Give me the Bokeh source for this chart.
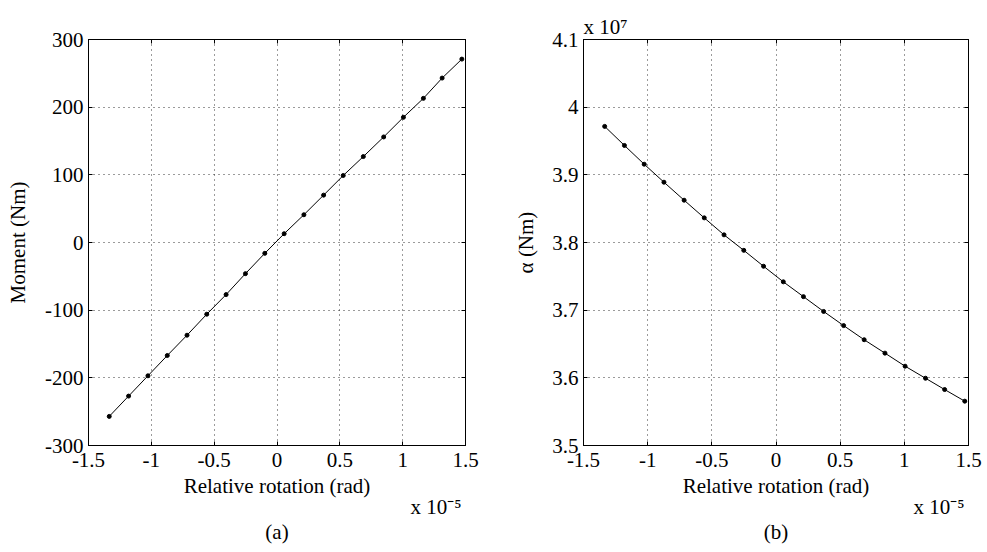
from bokeh.plotting import figure
from bokeh.layouts import row
from bokeh.models import FixedTicker, LinearAxis, CustomJSTickFormatter, Range1d, Title
from bokeh.embed import file_html
from bokeh.resources import INLINE

# Relative rotation, in units of 1e-5 rad
rotation_e5 = [-1.335, -1.181, -1.027, -0.873, -0.716, -0.559, -0.405, -0.251, -0.097,
               0.057, 0.214, 0.371, 0.527, 0.687, 0.849, 1.006, 1.165, 1.314, 1.471]
# Moment (Nm)
moment_nm = [-257, -227, -197, -167, -137, -106, -77, -46, -16,
             13, 41, 70, 99, 127, 156, 185, 213, 243, 271]
# alpha (Nm), in units of 1e7
alpha_e7 = [3.9716, 3.9434, 3.9157, 3.8891, 3.8625, 3.8364, 3.8113, 3.7884, 3.7649,
            3.7419, 3.7200, 3.6981, 3.6772, 3.6563, 3.6365, 3.6172, 3.5994, 3.5827, 3.5655]

x_ticks = [-1.5, -1, -0.5, 0, 0.5, 1, 1.5]
moment_ticks = [-300, -200, -100, 0, 100, 200, 300]
alpha_ticks = [3.5, 3.6, 3.7, 3.8, 3.9, 4.0, 4.1]

FONT = "Liberation Serif"
FS = "21px"


def make_panel(width, bl, br, y_lo, y_hi, yticks, ylabel, ylab_standoff, ys, caption):
    p = figure(width=width, height=552, x_range=Range1d(-1.5, 1.5), y_range=Range1d(y_lo, y_hi),
               output_backend="svg", toolbar_location=None,
               min_border_left=bl, min_border_right=br, min_border_top=39, min_border_bottom=107)
    p.background_fill_color = "white"
    p.border_fill_color = "white"
    p.outline_line_color = "black"
    p.outline_line_width = 1

    fmt = CustomJSTickFormatter(code="return String(Math.round(tick*1000)/1000);")
    xt = FixedTicker(ticks=x_ticks)
    yt = FixedTicker(ticks=yticks)

    for ax, t in ((p.xaxis[0], xt), (p.yaxis[0], yt)):
        ax.ticker = t
        ax.formatter = fmt
        ax.major_tick_in = 4
        ax.major_tick_out = 0
        ax.minor_tick_line_color = None
        ax.axis_line_color = "black"
        ax.major_tick_line_color = "black"
        ax.major_label_text_font = FONT
        ax.major_label_text_font_size = FS
        ax.major_label_text_color = "black"
        ax.axis_label_text_font = FONT
        ax.axis_label_text_font_size = FS
        ax.axis_label_text_font_style = "normal"
        ax.axis_label_text_color = "black"

    p.xaxis.axis_label = "Relative rotation (rad)"
    p.xaxis.major_label_standoff = 7
    p.xaxis.axis_label_standoff = 4
    p.yaxis.axis_label = ylabel
    p.yaxis.major_label_standoff = 5
    p.yaxis.axis_label_standoff = ylab_standoff

    blank = CustomJSTickFormatter(code="return '';")
    for loc, t in (("above", x_ticks), ("right", yticks)):
        ax = LinearAxis(ticker=FixedTicker(ticks=t), formatter=blank,
                        major_label_text_font_size="1px",
                        major_tick_in=4, major_tick_out=0, minor_tick_line_color=None,
                        axis_line_color="black", major_tick_line_color="black")
        p.add_layout(ax, loc)

    p.xgrid.ticker = xt
    p.ygrid.ticker = yt
    for g in (p.xgrid, p.ygrid):
        g.grid_line_color = "#222222"
        g.grid_line_dash = "1 4"
        g.grid_line_width = 1
        g.grid_line_alpha = 0.9

    p.line(rotation_e5, ys, line_color="black", line_width=1)
    p.scatter(rotation_e5, ys, size=4, fill_color="black", line_color="black")

    # x 10^-5 multiplier and caption below the axis
    p.add_layout(Title(text="x 10\u207b\u2075", align="right", vertical_align="top",
                       text_font=FONT, text_font_size=FS,
                       text_font_style="normal", text_color="black", standoff=-12, offset=4), "below")
    p.add_layout(Title(text=caption, align="center", text_font=FONT, text_font_size=FS,
                       text_font_style="normal", text_color="black", standoff=7), "below")
    return p


p1 = make_panel(493, 88, 28, -300, 300, moment_ticks, "Moment (Nm)", 12, moment_nm, "(a)")
p2 = make_panel(494, 90, 19, 3.5, 4.1, alpha_ticks, "\u03b1 (Nm)", 11, alpha_e7, "(b)")

p2.title = Title(text="x 10\u2077", align="left", text_font=FONT, text_font_size=FS,
                 text_font_style="normal", text_color="black", standoff=2)

layout = row(p1, p2)
open("out.html", "w").write(file_html(layout, INLINE))
